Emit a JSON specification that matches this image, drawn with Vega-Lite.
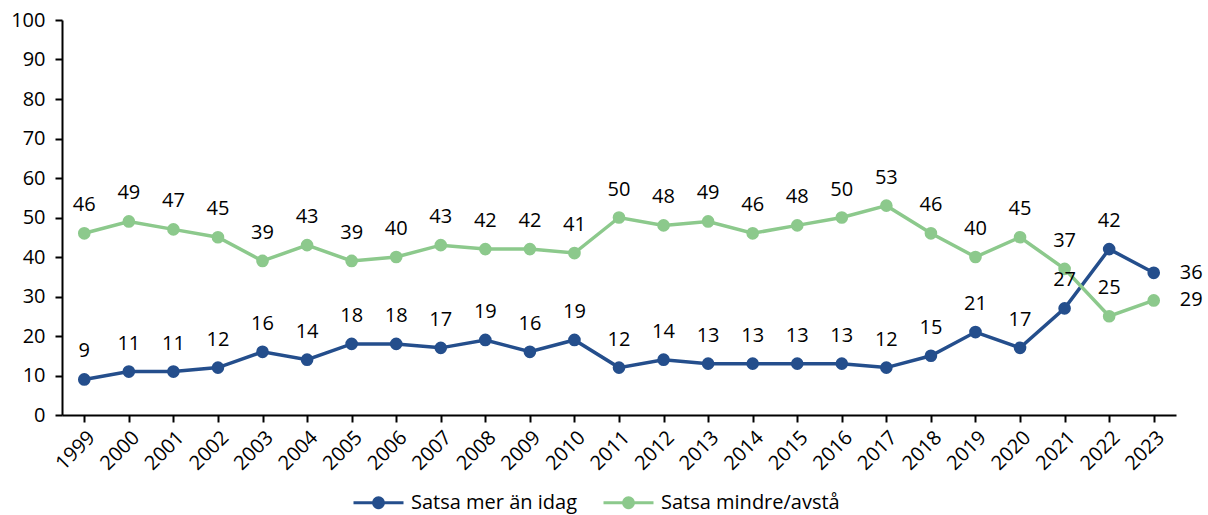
{
  "$schema": "https://vega.github.io/schema/vega-lite/v6.json",
  "width": 1114,
  "height": 395,
  "autosize": {"type": "none"},
  "padding": {"left": 62, "top": 20, "right": 32, "bottom": 100},
  "background": "white",
  "config": {
    "view": {"stroke": null},
    "font": "Open Sans",
    "axis": {"labelFont": "Open Sans", "labelColor": "#000", "domainColor": "#000", "tickColor": "#000", "domainWidth": 2, "tickWidth": 2, "grid": false, "title": null},
    "legend": {"labelFont": "Open Sans"}
  },
  "data": {
    "values": [
      {"year": "1999", "series": "Satsa mer än idag", "value": 9},
      {"year": "2000", "series": "Satsa mer än idag", "value": 11},
      {"year": "2001", "series": "Satsa mer än idag", "value": 11},
      {"year": "2002", "series": "Satsa mer än idag", "value": 12},
      {"year": "2003", "series": "Satsa mer än idag", "value": 16},
      {"year": "2004", "series": "Satsa mer än idag", "value": 14},
      {"year": "2005", "series": "Satsa mer än idag", "value": 18},
      {"year": "2006", "series": "Satsa mer än idag", "value": 18},
      {"year": "2007", "series": "Satsa mer än idag", "value": 17},
      {"year": "2008", "series": "Satsa mer än idag", "value": 19},
      {"year": "2009", "series": "Satsa mer än idag", "value": 16},
      {"year": "2010", "series": "Satsa mer än idag", "value": 19},
      {"year": "2011", "series": "Satsa mer än idag", "value": 12},
      {"year": "2012", "series": "Satsa mer än idag", "value": 14},
      {"year": "2013", "series": "Satsa mer än idag", "value": 13},
      {"year": "2014", "series": "Satsa mer än idag", "value": 13},
      {"year": "2015", "series": "Satsa mer än idag", "value": 13},
      {"year": "2016", "series": "Satsa mer än idag", "value": 13},
      {"year": "2017", "series": "Satsa mer än idag", "value": 12},
      {"year": "2018", "series": "Satsa mer än idag", "value": 15},
      {"year": "2019", "series": "Satsa mer än idag", "value": 21},
      {"year": "2020", "series": "Satsa mer än idag", "value": 17},
      {"year": "2021", "series": "Satsa mer än idag", "value": 27},
      {"year": "2022", "series": "Satsa mer än idag", "value": 42},
      {"year": "2023", "series": "Satsa mer än idag", "value": 36},
      {"year": "1999", "series": "Satsa mindre/avstå", "value": 46},
      {"year": "2000", "series": "Satsa mindre/avstå", "value": 49},
      {"year": "2001", "series": "Satsa mindre/avstå", "value": 47},
      {"year": "2002", "series": "Satsa mindre/avstå", "value": 45},
      {"year": "2003", "series": "Satsa mindre/avstå", "value": 39},
      {"year": "2004", "series": "Satsa mindre/avstå", "value": 43},
      {"year": "2005", "series": "Satsa mindre/avstå", "value": 39},
      {"year": "2006", "series": "Satsa mindre/avstå", "value": 40},
      {"year": "2007", "series": "Satsa mindre/avstå", "value": 43},
      {"year": "2008", "series": "Satsa mindre/avstå", "value": 42},
      {"year": "2009", "series": "Satsa mindre/avstå", "value": 42},
      {"year": "2010", "series": "Satsa mindre/avstå", "value": 41},
      {"year": "2011", "series": "Satsa mindre/avstå", "value": 50},
      {"year": "2012", "series": "Satsa mindre/avstå", "value": 48},
      {"year": "2013", "series": "Satsa mindre/avstå", "value": 49},
      {"year": "2014", "series": "Satsa mindre/avstå", "value": 46},
      {"year": "2015", "series": "Satsa mindre/avstå", "value": 48},
      {"year": "2016", "series": "Satsa mindre/avstå", "value": 50},
      {"year": "2017", "series": "Satsa mindre/avstå", "value": 53},
      {"year": "2018", "series": "Satsa mindre/avstå", "value": 46},
      {"year": "2019", "series": "Satsa mindre/avstå", "value": 40},
      {"year": "2020", "series": "Satsa mindre/avstå", "value": 45},
      {"year": "2021", "series": "Satsa mindre/avstå", "value": 37},
      {"year": "2022", "series": "Satsa mindre/avstå", "value": 25},
      {"year": "2023", "series": "Satsa mindre/avstå", "value": 29}
    ]
  },
  "encoding": {
    "x": {
      "field": "year", "type": "ordinal",
      "scale": {"type": "point", "padding": 0.5},
      "axis": {"labelAngle": -45, "labelFontSize": 20, "tickSize": 7, "labelPadding": 5}
    },
    "y": {
      "field": "value", "type": "quantitative",
      "scale": {"domain": [0, 100], "nice": false},
      "axis": {"values": [0,10,20,30,40,50,60,70,80,90,100], "labelFontSize": 20, "tickSize": 7, "labelPadding": 10}
    },
    "color": {
      "field": "series", "type": "nominal",
      "scale": {"domain": ["Satsa mer än idag", "Satsa mindre/avstå"], "range": ["#244E8C", "#8CC98C"]},
      "legend": {
        "title": null, "orient": "none", "legendX": 290, "legendY": 456, "direction": "horizontal",
        "labelFontSize": 20, "labelColor": "#000", "labelLimit": 400,
        "symbolType": "M-1,0H1M-0.2,0A0.2,0.2 0 1,1 0.2,0A0.2,0.2 0 1,1 -0.2,0",
        "columnPadding": 20, "labelOffset": 6,
        "encode": {
          "symbols": {
            "update": {
              "size": {"value": 2500},
              "strokeWidth": {"value": 3},
              "stroke": {"signal": "scale('color', datum.value)"},
              "fill": {"signal": "scale('color', datum.value)"},
              "opacity": {"value": 1}
            }
          }
        }
      }
    }
  },
  "layer": [
    {"mark": {"type": "line", "strokeWidth": 3.5}},
    {"mark": {"type": "point", "filled": true, "size": 160, "opacity": 1}},
    {
      "transform": [{"filter": "datum.year != '2023'"}],
      "mark": {"type": "text", "dy": -28, "fontSize": 20, "baseline": "middle"},
      "encoding": {"text": {"field": "value"}, "color": {"value": "#000"}}
    },
    {
      "transform": [{"filter": "datum.year == '2023'"}],
      "mark": {"type": "text", "dx": 26, "align": "left", "fontSize": 20, "baseline": "middle"},
      "encoding": {"text": {"field": "value"}, "color": {"value": "#000"}}
    }
  ]
}
